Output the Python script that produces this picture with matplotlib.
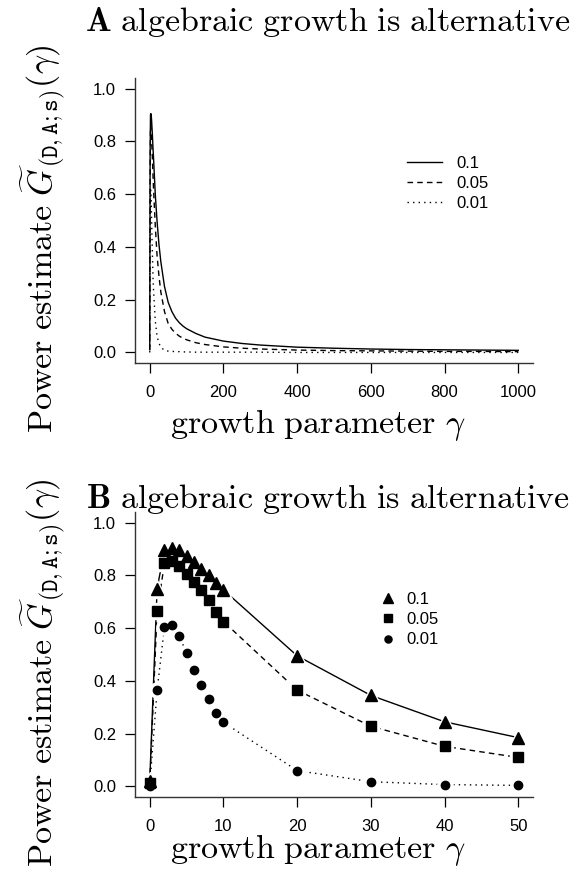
import matplotlib
matplotlib.use("Agg")
import matplotlib.pyplot as plt

plt.rcParams['mathtext.fontset'] = 'cm'
plt.rcParams['font.family'] = ['Liberation Sans', 'DejaVu Sans']

# --- panel A: power curves over a wide gamma range ---
gamma_a = [0, 1, 2, 3, 4, 5, 6, 7, 8, 9, 10, 15, 20, 25, 30, 40, 50, 60, 70, 80, 90, 100,
           125, 150, 200, 250, 300, 400, 500, 600, 700, 800, 900, 1000]
power_a_010 = [0.01, 0.75, 0.90, 0.905, 0.90, 0.88, 0.855, 0.83, 0.80, 0.77, 0.745,
               0.60, 0.495, 0.41, 0.345, 0.25, 0.19, 0.155, 0.13, 0.113, 0.10, 0.09,
               0.072, 0.058, 0.043, 0.034, 0.028, 0.02, 0.016, 0.013, 0.011, 0.01, 0.009, 0.008]
power_a_005 = [0.01, 0.665, 0.85, 0.86, 0.84, 0.805, 0.775, 0.745, 0.705, 0.665, 0.63,
               0.48, 0.365, 0.29, 0.23, 0.155, 0.11, 0.088, 0.073, 0.062, 0.054, 0.048,
               0.037, 0.030, 0.021, 0.016, 0.013, 0.009, 0.007, 0.006, 0.005, 0.004, 0.004, 0.003]
power_a_001 = [0.0, 0.365, 0.61, 0.615, 0.57, 0.505, 0.44, 0.385, 0.33, 0.28, 0.245,
               0.12, 0.06, 0.035, 0.02, 0.008, 0.005, 0.004, 0.003, 0.003, 0.002, 0.002,
               0.001, 0.001, 0.001, 0.001, 0.001, 0.0, 0.0, 0.0, 0.0, 0.0, 0.0, 0.0]

# --- panel B: zoom on small gamma ---
gamma_b = [0, 1, 2, 3, 4, 5, 6, 7, 8, 9, 10, 20, 30, 40, 50]
power_b_010 = [0.02, 0.75, 0.895, 0.905, 0.895, 0.875, 0.85, 0.825, 0.80, 0.77, 0.745,
               0.495, 0.345, 0.245, 0.185]
power_b_005 = [0.012, 0.665, 0.845, 0.855, 0.835, 0.805, 0.775, 0.745, 0.705, 0.66, 0.625,
               0.365, 0.228, 0.152, 0.11]
power_b_001 = [0.003, 0.365, 0.605, 0.61, 0.57, 0.505, 0.44, 0.385, 0.33, 0.28, 0.243,
               0.06, 0.018, 0.007, 0.004]

levels = ['0.1', '0.05', '0.01']
y_ticks = [0.0, 0.2, 0.4, 0.6, 0.8, 1.0]

title_txt = r'$\mathbf{%s}\ \mathrm{algebraic\ growth\ is\ alternative}$'
xlab_txt = r'$\mathrm{growth\ parameter}\ \gamma$'
ylab_txt = r'$\mathrm{Power\ estimate}\ \widetilde{G}_{(\mathtt{D,A;s})}(\gamma)$'

W, H = 576, 875
fig = plt.figure(figsize=(W / 100, H / 100), dpi=100)


def px_axes(left, top, right, bottom):
    return fig.add_axes([left / W, 1 - bottom / H, (right - left) / W, (bottom - top) / H])


def style_axes(ax, xticks, xlim):
    ax.set_xlim(*xlim)
    ax.set_ylim(-0.04, 1.04)
    ax.set_xticks(xticks)
    ax.set_yticks(y_ticks)
    ax.set_yticklabels([f'{v:.1f}' for v in y_ticks])
    for s in ['top', 'right']:
        ax.spines[s].set_visible(False)
    for s in ['left', 'bottom']:
        ax.spines[s].set_linewidth(1.0)
        ax.spines[s].set_color('#333333')
    ax.tick_params(axis='both', direction='out', length=7.5, width=0.9,
                   labelsize=12, colors='black')
    ax.tick_params(axis='x', pad=8)
    ax.tick_params(axis='y', pad=6)


lw = 1.0
dash = (0, (4, 3))
dot = (0, (1, 3))

# panel A
axA = px_axes(135, 78, 533, 363)
axA.plot(gamma_a, power_a_010, color='black', lw=lw, ls='-', label=levels[0])
axA.plot(gamma_a, power_a_005, color='black', lw=lw, ls=dash, label=levels[1])
axA.plot(gamma_a, power_a_001, color='black', lw=lw, ls=dot, label=levels[2])
style_axes(axA, [0, 200, 400, 600, 800, 1000], (-40, 1040))
axA.legend(loc='upper left', bbox_to_anchor=(0.683, 0.728), frameon=False,
           fontsize=12, handlelength=2.1, handletextpad=0.9, labelspacing=0.32,
           borderpad=0, borderaxespad=0)

# panel B
axB = px_axes(135, 512, 533, 797)
series_b = [(power_b_010, '-', '^', 8.5), (power_b_005, dash, 's', 7), (power_b_001, dot, 'o', 6)]
for vals, ls, mk, ms in series_b:
    axB.plot(gamma_b, vals, color='black', lw=lw, ls=ls, zorder=2)
    # white halo so the line stops short of each point, like R type="b"
    axB.plot(gamma_b, vals, ls='none', marker=mk, ms=ms + 5, color='white', zorder=3)
for (vals, ls, mk, ms), lab in zip(series_b, levels):
    axB.plot(gamma_b, vals, ls='none', marker=mk, ms=ms, color='black', zorder=4, label=lab)
style_axes(axB, [0, 10, 20, 30, 40, 50], (-2, 52))
axB.legend(loc='upper left', bbox_to_anchor=(0.615, 0.72), frameon=False,
           fontsize=12, handlelength=1.0, handletextpad=0.6, labelspacing=0.32,
           borderpad=0, borderaxespad=0, markerscale=0.85)

# titles and axis labels
fig.text(328 / W, 1 - 31 / H, title_txt % 'A', fontsize=24.5, ha='center', va='baseline')
fig.text(328 / W, 1 - 508 / H, title_txt % 'B', fontsize=24.5, ha='center', va='baseline')
for yc in [425, 850]:
    fig.text(318 / W, 1 - yc / H, xlab_txt, fontsize=24.5, ha='center', va='center')
for yc in [239, 673]:
    fig.text(43 / W, 1 - yc / H, ylab_txt, fontsize=24.5, ha='center', va='center',
             rotation=90, rotation_mode='anchor')

fig.savefig('out.png', dpi=100)
